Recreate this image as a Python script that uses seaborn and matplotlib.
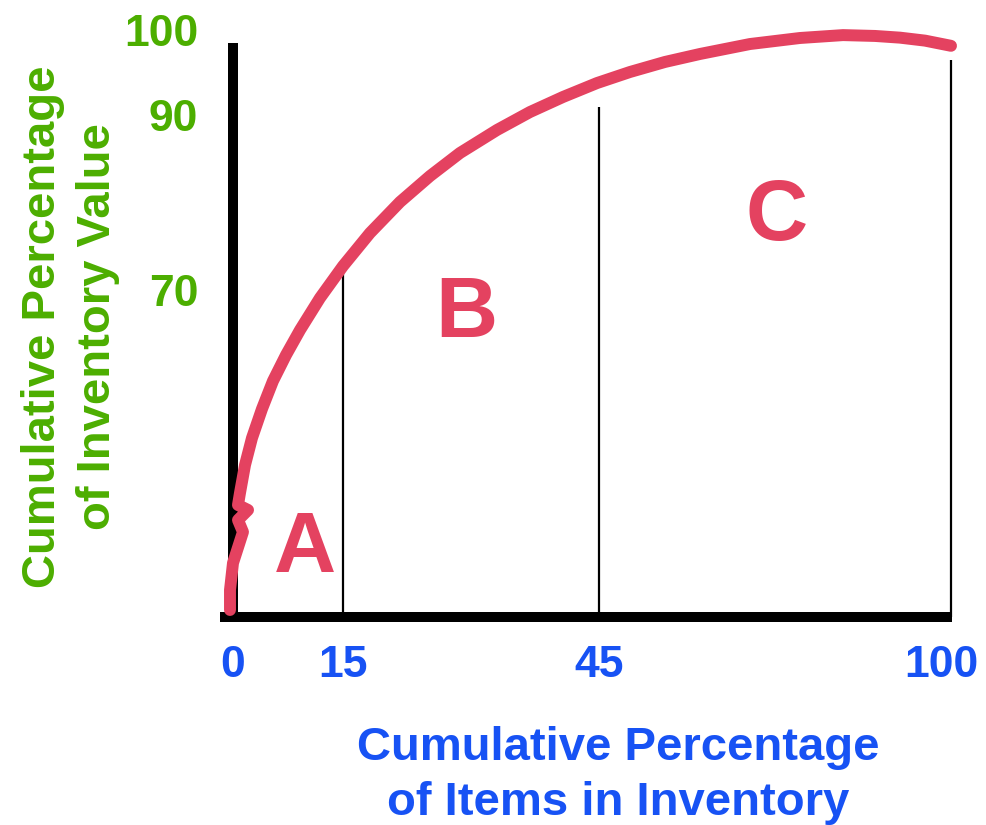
import numpy as np
import pandas as pd
import matplotlib
matplotlib.use("Agg")
import matplotlib.pyplot as plt
import matplotlib.transforms as mtransforms
import seaborn as sns

# ABC curve (cumulative % of items vs cumulative % of value)
items_pct = [-0.41, -0.41, 0, 1.36, 0.68, 2.05, 0.68, 0.95, 1.64, 2.59, 3.95, 5.45,
             7.23, 9.14, 11.86, 15.0, 18.16, 21.68, 25.2, 28.71, 33.05, 36.91,
             40.78, 44.77, 49.84, 55.31, 60.78, 68.59, 76.41, 83.13, 88.13, 92.03,
             95.94, 100.16]
value_pct = [1.5, 5.78, 11.56, 18.2, 20.76, 22.91, 23.98, 26.54, 32.54, 38.32,
             44.53, 50.52, 56.09, 61.44, 68.29, 72.74, 76.51, 80.06, 83.03, 85.66,
             88.29, 90.35, 92.12, 93.76, 95.06, 96.24, 97.18, 98.35, 99.06, 99.4,
             99.3, 99.1, 98.75, 98.14]

x_ticks = [0, 15, 45, 100]
y_ticks = [70, 90, 100]

# class boundaries and their heights
divider_x = [15, 45, 100]
divider_top = [72, 91, 96.5]

class_names = ["A", "B", "C"]
class_x = [9.8, 29.5, 72.8]
class_y = [9.6, 59.9, 75.7]

# the source axes are schematic, ticks are not evenly spaced
x_knots, x_span = [-10, 0, 15, 45, 100], [-73.3, 0, 110, 366, 718]
y_knots, y_span = [0, 70, 90, 100], [0, 327, 502, 587]

RED = "#E44260"
GREEN = "#4CAE00"
BLUE = "#1752F4"

sns.set_theme(style="white")
plt.rcParams["font.family"] = ["Liberation Sans", "DejaVu Sans"]
plt.rcParams["font.weight"] = "bold"

fig = plt.figure(figsize=(9.87, 8.25), dpi=100)
ax = fig.add_axes([233 / 987, 208 / 825, 718 / 987, 587 / 825])

ax.set_xscale("function", functions=(lambda v: np.interp(v, x_knots, x_span),
                                      lambda p: np.interp(p, x_span, x_knots)))
ax.set_yscale("function", functions=(lambda v: np.interp(v, y_knots, y_span),
                                      lambda p: np.interp(p, y_span, y_knots)))

df = pd.DataFrame({"items": items_pct, "value": value_pct})
sns.lineplot(data=df, x="items", y="value", sort=False, estimator=None, ax=ax,
             color=RED, linewidth=8.6, clip_on=False, zorder=5,
             solid_capstyle="round", solid_joinstyle="round")

ax.vlines(divider_x, 0, divider_top, color="black", linewidth=1.6, clip_on=False)

for name, cx, cy in zip(class_names, class_x, class_y):
    ax.text(cx, cy, name, color=RED, fontsize=62, fontweight="bold",
            ha="center", va="baseline")

ax.set_xlim(0, 100)
ax.set_ylim(0, 100)

ax.set_xticks(x_ticks)
ax.set_xticklabels([str(t) for t in x_ticks])
ax.set_yticks(y_ticks)
ax.set_yticklabels([str(t) for t in y_ticks])
ax.tick_params(axis="x", length=0, pad=20, labelsize=32, labelcolor=BLUE)
ax.tick_params(axis="y", length=0, pad=25, labelsize=32, labelcolor=GREEN)
for lab in ax.get_xticklabels() + ax.get_yticklabels():
    lab.set_fontweight("bold")
# the "100" label sits a little left of its tick in the source
last = ax.get_xticklabels()[-1]
last.set_transform(last.get_transform() +
                   mtransforms.ScaledTranslation(-0.1, 0, fig.dpi_scale_trans))

for side in ["top", "right"]:
    ax.spines[side].set_visible(False)
for side in ["left", "bottom"]:
    ax.spines[side].set_linewidth(7.2)
    ax.spines[side].set_color("black")
    ax.spines[side].set_capstyle("projecting")
ax.spines["left"].set_bounds(0, 97.9)
ax.spines["bottom"].set_bounds(-1.1, 99.3)

ax.set_xlabel("Cumulative Percentage\nof Items in Inventory", color=BLUE,
              fontsize=34, fontweight="bold", linespacing=1.32)
ax.xaxis.set_label_coords(0.536, -0.186)
ax.set_ylabel("Cumulative Percentage\nof Inventory Value", color=GREEN,
              fontsize=34, fontweight="bold", linespacing=1.32)
ax.yaxis.set_label_coords(-0.157, 0.494)

fig.savefig("out.png", dpi=100, facecolor="white")
